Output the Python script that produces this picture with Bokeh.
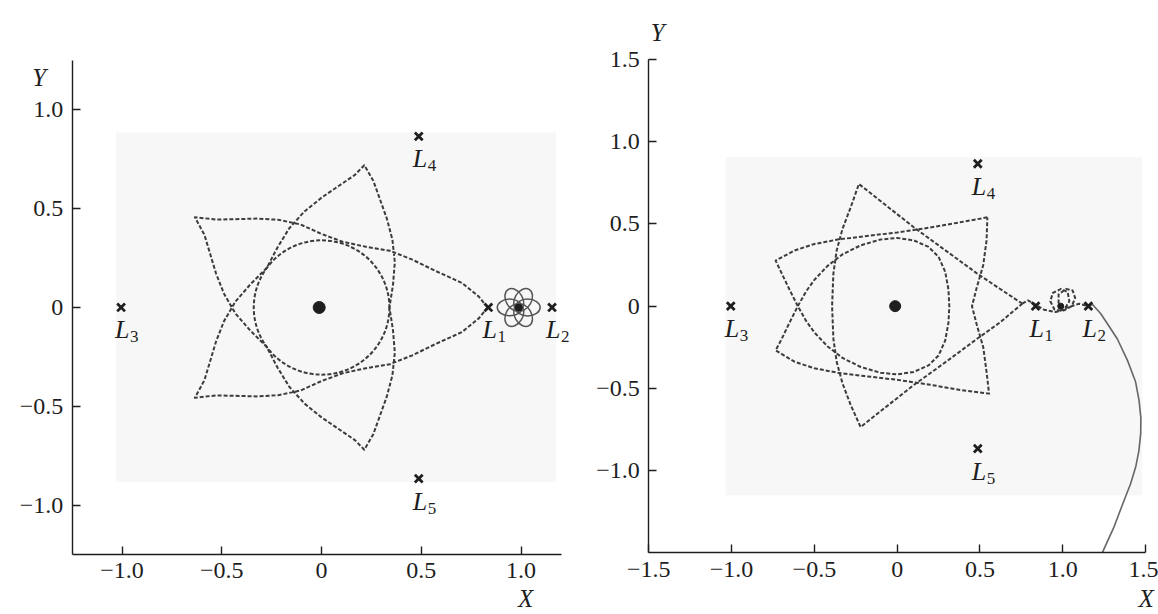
from bokeh.plotting import figure
from bokeh.layouts import row
from bokeh.models import (FixedTicker, CustomJSTickFormatter, Label, LabelSet,
                          ColumnDataSource, LinearAxis)
from bokeh.embed import file_html
from bokeh.resources import INLINE

# Libration points, Earth and Moon (rotating frame, Earth-Moon distance = 1)
lib_x = [0.836, 1.155, -1.005, 0.487, 0.487]
lib_y = [0.0, 0.0, 0.0, 0.866, -0.866]
lib_sub = ["1", "2", "3", "4", "5"]
earth_x, earth_y = [-0.012], [0.0]
moon_x, moon_y = [0.988], [0.0]

# Left: initial circular orbit (centre, diameter)
circA_x, circA_y, circA_d = [0.0], [0.0], [0.68]

# Left: five-loop rosette, one closed pass starting at L1
rosA_x = [0.832, 0.788, 0.704, 0.571, 0.455, 0.342, 0.223, 0.105, 0.0, -0.105, -0.217, -0.327, -0.432, -0.530, -0.635,
          -0.587, -0.559, -0.529, -0.489, -0.432, -0.358, -0.275, -0.221, -0.162, -0.086, 0.0, 0.087, 0.167, 0.214,
          0.259, 0.292, 0.327, 0.355, 0.367, 0.358, 0.340, 0.358, 0.367, 0.355, 0.327, 0.292, 0.259, 0.214,
          0.167, 0.087, 0.0, -0.086, -0.162, -0.221, -0.275, -0.358, -0.432, -0.489, -0.529, -0.559, -0.587, -0.635,
          -0.530, -0.432, -0.327, -0.217, -0.105, 0.0, 0.105, 0.223, 0.342, 0.455, 0.571, 0.704, 0.788, 0.832]
rosA_y = [0.0, 0.055, 0.124, 0.185, 0.242, 0.287, 0.307, 0.333, 0.372, 0.420, 0.444, 0.450, 0.447, 0.445, 0.457,
          0.367, 0.273, 0.172, 0.069, -0.030, -0.116, -0.200, -0.304, -0.401, -0.486, -0.556, -0.616, -0.671, -0.720,
          -0.642, -0.549, -0.450, -0.343, -0.229, -0.116, 0.0, 0.116, 0.229, 0.343, 0.450, 0.549, 0.642, 0.720,
          0.671, 0.616, 0.556, 0.486, 0.401, 0.304, 0.200, 0.116, 0.030, -0.069, -0.172, -0.273, -0.367, -0.457,
          -0.445, -0.447, -0.450, -0.444, -0.420, -0.372, -0.333, -0.307, -0.287, -0.242, -0.185, -0.124, -0.055, 0.0]

# Left: capture loops around the Moon (loop centres, sizes, orientations)
capA_cx = [1.033, 1.010, 0.966, 0.943, 0.966, 1.010]
capA_cy = [0.0, 0.039, 0.039, 0.0, -0.039, -0.039]
capA_w = [0.125, 0.12, 0.12, 0.125, 0.12, 0.12]
capA_h = [0.085, 0.085, 0.085, 0.085, 0.085, 0.085]
capA_ang = [0.0, 1.047, 2.094, 0.0, 1.047, 2.094]

# Right: loop through L1 - upper-left tip - inner arc - lower-left tip - L1
rosB1_x = [0.756, 0.620, 0.485, 0.300, 0.100, -0.070, -0.231, -0.281, -0.330, -0.365, -0.385, -0.393,
           -0.385, -0.365, -0.330, -0.281, -0.221, -0.070, 0.100, 0.300, 0.485, 0.620, 0.756]
rosB1_y = [0.015, 0.106, 0.197, 0.333, 0.480, 0.615, 0.743, 0.600, 0.470, 0.340, 0.200, 0.0,
           -0.200, -0.340, -0.470, -0.600, -0.735, -0.615, -0.480, -0.335, -0.197, -0.100, 0.015]

# Right: outer tips and the egg-shaped loop round the Earth
rosB2_x = [0.545, 0.380, 0.200, 0.0, -0.200, -0.360, -0.500, -0.620, -0.734,
           -0.700, -0.650, -0.600, -0.550, -0.500, -0.420, -0.330, -0.220, -0.100, 0.0, 0.100, 0.190, 0.250,
           0.290, 0.310, 0.315, 0.310, 0.290, 0.250, 0.190, 0.100, 0.0, -0.100, -0.220, -0.330, -0.420,
           -0.500, -0.550, -0.600, -0.650, -0.700, -0.734,
           -0.620, -0.500, -0.360, -0.200, 0.0, 0.200, 0.380, 0.555,
           0.540, 0.520, 0.480, 0.452, 0.480, 0.520, 0.540, 0.545]
rosB2_y = [0.540, 0.510, 0.478, 0.448, 0.425, 0.405, 0.378, 0.338, 0.277,
           0.205, 0.100, 0.0, -0.090, -0.160, -0.245, -0.315, -0.370, -0.405, -0.415, -0.400, -0.360, -0.300,
           -0.210, -0.100, 0.0, 0.100, 0.210, 0.300, 0.360, 0.400, 0.415, 0.405, 0.370, 0.315, 0.245,
           0.160, 0.090, 0.0, -0.100, -0.205, -0.269,
           -0.338, -0.378, -0.405, -0.425, -0.448, -0.478, -0.510, -0.532,
           -0.400, -0.250, -0.110, 0.0, 0.110, 0.250, 0.400, 0.540]

# Right: hook past L1, two loops round the Moon, exit through L2
arrB_x = [0.756, 0.790, 0.827, 0.887, 0.958, 1.010, 1.040, 1.030, 0.990, 0.940, 0.925, 0.950, 1.000, 1.055,
          1.075, 1.060, 1.020, 0.975, 0.975, 1.010, 1.048, 1.099, 1.155]
arrB_y = [0.015, 0.035, 0.015, -0.022, -0.036, -0.020, 0.030, 0.085, 0.105, 0.080, 0.030, -0.020, -0.030, 0.000,
          0.050, 0.095, 0.105, 0.070, 0.020, -0.015, -0.002, 0.015, 0.0]
escB_x = [1.155, 1.180, 1.230, 1.270, 1.330, 1.391, 1.440, 1.461, 1.472, 1.471, 1.460, 1.441, 1.410, 1.371,
          1.310, 1.240]
escB_y = [0.0, 0.010, -0.046, -0.107, -0.200, -0.330, -0.460, -0.573, -0.680, -0.775, -0.880, -0.977, -1.080,
          -1.180, -1.342, -1.497]

INK = "#1e1e1e"
DASH = "#3c3c3c"
SERIF = "Liberation Serif"

TICK_JS = """
if (Math.abs(tick) < 1e-9) { return "0"; }
const s = Math.abs(tick).toFixed(1);
return tick < 0 ? "\u2212" + s : s;
"""


def make_panel(width, xr, yr, xbounds, ybounds, xticks, yticks, haze):
    p = figure(x_range=xr, y_range=yr, frame_width=width, frame_height=614,
               x_axis_location=None, y_axis_location=None, min_border=0,
               output_backend="svg", toolbar_location=None)
    p.grid.visible = False
    p.outline_line_color = None
    p.background_fill_color = "white"
    p.border_fill_color = "white"
    xa = LinearAxis(fixed_location=ybounds[0], bounds=xbounds)
    ya = LinearAxis(fixed_location=xbounds[0], bounds=ybounds)
    for ax, ticks in ((xa, xticks), (ya, yticks)):
        ax.ticker = FixedTicker(ticks=ticks)
        ax.formatter = CustomJSTickFormatter(code=TICK_JS)
        ax.major_tick_in = 8
        ax.major_tick_out = 0
        ax.minor_tick_line_color = None
        ax.axis_line_width = 1.4
        ax.axis_line_color = INK
        ax.major_tick_line_color = INK
        ax.major_tick_line_width = 1.4
        ax.major_label_text_font = SERIF
        ax.major_label_text_font_size = "24px"
        ax.major_label_text_color = INK
        ax.major_label_standoff = 9
    p.add_layout(xa, "below")
    p.add_layout(ya, "left")
    p.quad(left=[haze[0]], right=[haze[1]], bottom=[haze[2]], top=[haze[3]],
           fill_color="#f7f7f7", line_color=None)
    return p


def dashed(p, xs, ys):
    p.line(xs, ys, line_color=DASH, line_width=2, line_dash="4 2", line_join="round")


def add_points(p, earth_size):
    p.scatter(lib_x, lib_y, marker="x", size=11, line_width=2.8, color=INK)
    p.scatter(earth_x, earth_y, marker="circle", size=earth_size, color=INK)
    src = ColumnDataSource(dict(x=lib_x, y=lib_y, s=lib_sub, L=["L"] * 5))
    p.add_layout(LabelSet(x="x", y="y", text="L", source=src, x_offset=-6, y_offset=-31,
                          text_font=SERIF, text_font_style="italic", text_font_size="26px",
                          text_color=INK, text_baseline="alphabetic"))
    p.add_layout(LabelSet(x="x", y="y", text="s", source=src, x_offset=9, y_offset=-35,
                          text_font=SERIF, text_font_size="17px",
                          text_color=INK, text_baseline="alphabetic"))


def axis_letter(p, x, y, dx, dy, text):
    p.add_layout(Label(x=x, y=y, x_offset=dx, y_offset=dy, text=text, text_font=SERIF,
                       text_font_style="italic", text_font_size="25px", text_color=INK,
                       text_baseline="alphabetic"))


# ---- left panel ----
p1 = make_panel(581, (-1.6094, 1.3027), (-1.5537, 1.5536), (-1.25, 1.2), (-1.25, 1.25),
                [-1.0, -0.5, 0.0, 0.5, 1.0], [-1.0, -0.5, 0.0, 0.5, 1.0],
                (-1.03, 1.175, -0.883, 0.886))
p1.ellipse(x=circA_x, y=circA_y, width=circA_d, height=circA_d, fill_color=None,
           line_color=DASH, line_width=2, line_dash="4 2")
dashed(p1, rosA_x, rosA_y)
p1.ellipse(x=capA_cx, y=capA_cy, width=capA_w, height=capA_h, angle=capA_ang,
           fill_color=None, line_color="#555555", line_width=1.5)
p1.scatter(moon_x, moon_y, marker="circle", size=7, color=INK)
add_points(p1, 12)
axis_letter(p1, -1.25, 1.25, -40, -17, "Y")
axis_letter(p1, 1.2, -1.25, -43, -44, "X")

# ---- right panel ----
p2 = make_panel(577, (-1.9065, 1.5785), (-1.8753, 1.8588), (-1.5, 1.5), (-1.5, 1.5),
                [-1.5, -1.0, -0.5, 0.0, 0.5, 1.0, 1.5], [-1.0, -0.5, 0.0, 0.5, 1.0, 1.5],
                (-1.036, 1.48, -1.15, 0.905))
dashed(p2, rosB1_x, rosB1_y)
dashed(p2, rosB2_x, rosB2_y)
dashed(p2, arrB_x, arrB_y)
p2.line(escB_x, escB_y, line_color="#666666", line_width=1.6)
p2.scatter(moon_x, moon_y, marker="circle", size=6, color=INK)
add_points(p2, 11)
axis_letter(p2, -1.5, 1.5, 2, 27, "Y")
axis_letter(p2, 1.5, -1.5, -7, -46, "X")

layout = row(p1, p2, spacing=0)
open("out.html", "w").write(file_html(layout, INLINE))
